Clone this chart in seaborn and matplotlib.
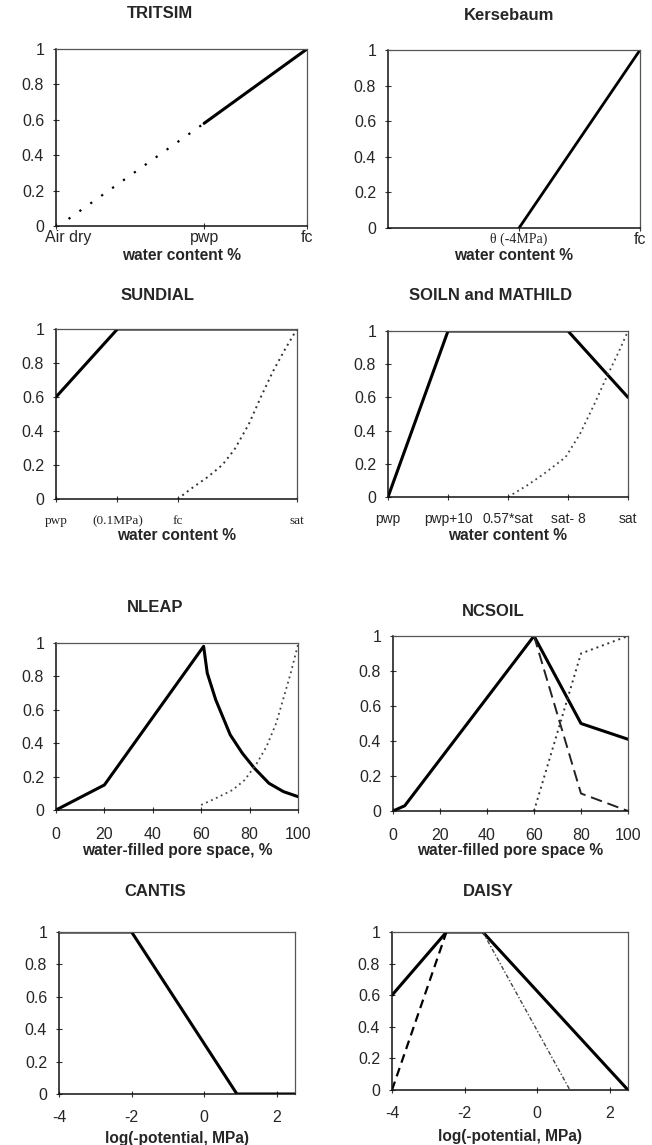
import numpy as np
import pandas as pd
import matplotlib
matplotlib.use("Agg")
import matplotlib.pyplot as plt
import matplotlib.transforms as mtrans
import seaborn as sns

# ---- data ----
# TRITSIM (x: 0 = air dry, 1 = field capacity)
tritsim_ticks = [0, 0.59, 1]
tritsim_labels = ["Air dry", "pwp", "fc"]
tritsim_dry_x = [0.05, 0.59]
tritsim_dry_y = [0.04, 0.58]
tritsim_x = [0.59, 1.0]
tritsim_y = [0.58, 1.0]

# Kersebaum
kers_ticks = [0.52, 1]
kers_labels = ["\u03b8 (-4MPa)", "fc"]
kers_x = [0.52, 1.0]
kers_y = [0.0, 1.0]

# SUNDIAL
sund_ticks = [0, 0.255, 0.505, 1]
sund_labels = ["pwp", "(0.1MPa)", "fc", "sat"]
sund_x = [0.0, 0.255, 1.0]
sund_y = [0.6, 1.0, 1.0]
sund_den_x = [0.505, 0.56, 0.63, 0.69, 0.74, 0.80, 0.85, 0.90, 0.95, 1.0]
sund_den_y = [0.0, 0.06, 0.13, 0.20, 0.29, 0.44, 0.60, 0.75, 0.88, 1.0]

# SOILN and MATHILD
soiln_ticks = [0, 0.25, 0.5, 0.75, 1]
soiln_labels = ["pwp", "pwp+10", "0.57*sat", "sat- 8", "sat"]
soiln_x = [0.0, 0.25, 0.75, 1.0]
soiln_y = [0.0, 1.0, 1.0, 0.6]
soiln_den_x = [0.5, 0.58, 0.65, 0.74, 0.80, 0.86, 0.91, 0.96, 1.0]
soiln_den_y = [0.0, 0.07, 0.14, 0.24, 0.38, 0.56, 0.72, 0.87, 1.0]

# NLEAP
nleap_x = [0, 20, 61, 62.5, 66, 72, 77, 82, 88, 94, 100]
nleap_y = [0.0, 0.15, 0.98, 0.82, 0.66, 0.45, 0.34, 0.25, 0.16, 0.11, 0.08]
nleap_den_x = [60, 66, 73, 78, 83, 87, 91, 94, 97, 100]
nleap_den_y = [0.03, 0.07, 0.12, 0.18, 0.28, 0.38, 0.52, 0.67, 0.82, 0.99]

# NCSOIL
ncs_x = [0, 5, 60, 80, 100]
ncs_y = [0.0, 0.03, 1.0, 0.5, 0.41]
ncs_nit_x = [60, 80, 100]
ncs_nit_y = [1.0, 0.1, 0.0]
ncs_den_x = [60, 80, 100]
ncs_den_y = [0.0, 0.9, 1.0]

# CANTIS
cantis_x = [-4, -2, 0.9, 2.5]
cantis_y = [1.0, 1.0, 0.0, 0.0]

# DAISY
daisy_x = [-4, -2.5, -1.5, 2.5]
daisy_y = [0.6, 1.0, 1.0, 0.0]
daisy_wet_x = [-4, -2.5]
daisy_wet_y = [0.0, 1.0]
daisy_dry_x = [-1.5, 0.9]
daisy_dry_y = [1.0, 0.0]

yticks = [0, 0.2, 0.4, 0.6, 0.8, 1]
ylabels = ["0", "0.2", "0.4", "0.6", "0.8", "1"]

sns.set_style("white")
plt.rcParams["font.family"] = ["Liberation Sans", "DejaVu Sans"]
plt.rcParams["axes.unicode_minus"] = False

W, H = 652, 1145
fig = plt.figure(figsize=(W / 100, H / 100), dpi=100)
SERIF = ["Liberation Serif", "DejaVu Serif"]


def make_axes(x0, x1, y0, y1):
    return fig.add_axes([x0 / W, 1 - y1 / H, (x1 - x0) / W, (y1 - y0) / H])


def style(ax, title, title_xy, xlabel, xlabel_y, tick_pad, xlim):
    ax.set_xlim(*xlim)
    ax.set_ylim(0, 1)
    ax.set_yticks(yticks)
    ax.set_yticklabels(ylabels)
    for side in ["top", "right"]:
        ax.spines[side].set_color("#555555")
        ax.spines[side].set_linewidth(0.9)
    for side in ["left", "bottom"]:
        ax.spines[side].set_color("#111111")
        ax.spines[side].set_linewidth(1.1)
    ax.tick_params(axis="both", direction="inout", length=5, width=0.8,
                   color="#333333", labelsize=11.5, bottom=True, left=True)
    ax.tick_params(axis="y", pad=6)
    ax.tick_params(axis="x", pad=tick_pad)
    ax.set_xlabel(xlabel, fontsize=11.2, fontweight="bold", va="center")
    bb = ax.get_position()
    ax.xaxis.set_label_coords(0.5, (1 - xlabel_y / H - bb.y0) / bb.height)
    fig.text(title_xy[0] / W, 1 - title_xy[1] / H, title, ha="center",
             va="center", fontsize=12, fontweight="bold")


def draw(ax, x, y, ls="-", lw=2.0, color="black"):
    sns.lineplot(x=x, y=y, ax=ax, color=color, linewidth=lw, linestyle=ls,
                 sort=False, estimator=None)


dots = (0, (1, 2))

# TRITSIM
ax = make_axes(56, 307, 49, 226)
draw(ax, tritsim_dry_x, tritsim_dry_y, ls=(0, (1, 5)), lw=1.6)
draw(ax, tritsim_x, tritsim_y, lw=2.2)
ax.set_xticks(tritsim_ticks)
ax.set_xticklabels(tritsim_labels)
style(ax, "TRITSIM", (160, 14), "water content %", 255, 0.5, (0, 1))
lab = ax.get_xticklabels()[0]
lab.set_transform(lab.get_transform() + mtrans.ScaledTranslation(12 / 100, 0, fig.dpi_scale_trans))

# Kersebaum
ax = make_axes(388, 640, 50, 228)
draw(ax, kers_x, kers_y, lw=2.0)
ax.set_xticks(kers_ticks)
ax.set_xticklabels(kers_labels)
style(ax, "Kersebaum", (509, 15), "water content %", 256, 0.5, (0, 1))
ax.get_xticklabels()[0].set_fontfamily(SERIF)
ax.get_xticklabels()[0].set_fontsize(10)

# SUNDIAL
ax = make_axes(56, 297, 329, 499)
draw(ax, sund_x, sund_y, lw=2.2)
draw(ax, sund_den_x, sund_den_y, ls=dots, lw=1.4, color="#333333")
ax.set_xticks(sund_ticks)
ax.set_xticklabels(sund_labels)
style(ax, "SUNDIAL", (158, 295), "water content %", 536, 9, (0, 1))
for lab in ax.get_xticklabels():
    lab.set_fontfamily(SERIF)
    lab.set_fontsize(9.5)

# SOILN and MATHILD
ax = make_axes(388, 628, 331, 497)
draw(ax, soiln_x, soiln_y, lw=2.2)
draw(ax, soiln_den_x, soiln_den_y, ls=dots, lw=1.3, color="#444444")
ax.set_xticks(soiln_ticks)
ax.set_xticklabels(soiln_labels)
style(ax, "SOILN and MATHILD", (491, 296), "water content %", 536, 8.5, (0, 1))
for lab in ax.get_xticklabels():
    lab.set_fontsize(10)

# NLEAP
ax = make_axes(56, 298, 643, 810)
draw(ax, nleap_x, nleap_y, lw=2.2)
draw(ax, nleap_den_x, nleap_den_y, ls=dots, lw=1.3, color="#444444")
ax.set_xticks([0, 20, 40, 60, 80, 100])
style(ax, "NLEAP", (155, 608), "water-filled pore space, %", 851, 10, (0, 100))

# NCSOIL
ax = make_axes(393, 628, 636, 811)
draw(ax, ncs_x, ncs_y, lw=2.2)
draw(ax, ncs_nit_x, ncs_nit_y, ls=(0, (6, 3)), lw=1.4, color="#222222")
draw(ax, ncs_den_x, ncs_den_y, ls=dots, lw=1.4, color="#333333")
ax.set_xticks([0, 20, 40, 60, 80, 100])
style(ax, "NCSOIL", (493, 612), "water-filled pore space %", 851, 10, (0, 100))

# CANTIS
ax = make_axes(59, 295, 932, 1094)
draw(ax, cantis_x, cantis_y, lw=2.2)
ax.set_xticks([-4, -2, 0, 2])
style(ax, "CANTIS", (155, 892), "log(-potential, MPa)", 1138, 9, (-4, 2.5))

# DAISY
ax = make_axes(392, 628, 932, 1090)
draw(ax, daisy_x, daisy_y, lw=2.2)
draw(ax, daisy_wet_x, daisy_wet_y, ls=(0, (4, 2.5)), lw=1.6)
draw(ax, daisy_dry_x, daisy_dry_y, ls=(0, (3, 1.5, 1, 1.5)), lw=1.0, color="#444444")
ax.set_xticks([-4, -2, 0, 2])
style(ax, "DAISY", (488, 892), "log(-potential, MPa)", 1137, 9, (-4, 2.5))

fig.savefig("out.png", dpi=100)
